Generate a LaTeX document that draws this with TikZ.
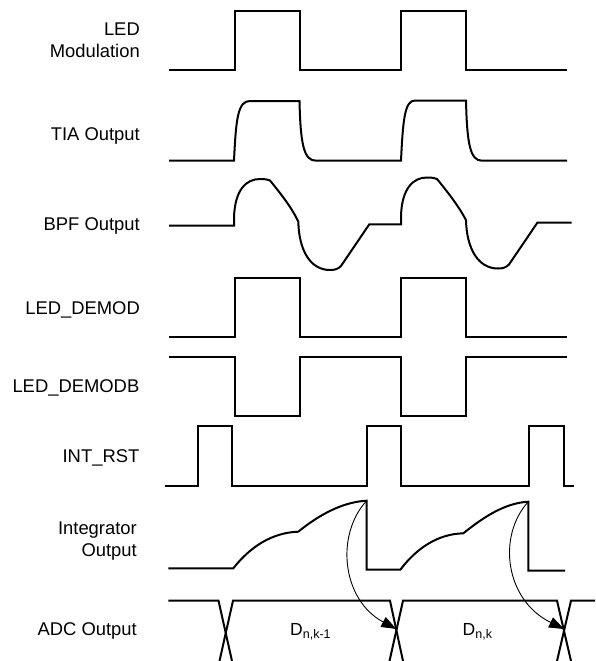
\documentclass[tikz,border=0pt]{standalone}
\usepackage{fontspec}
\setmainfont{Liberation Sans}
\usetikzlibrary{arrows.meta}
\begin{document}
\begin{tikzpicture}[x=1pt,y=-1pt,
  wave/.style={line width=2pt, line join=miter},
  lbl/.style={inner sep=0pt, font=\fontsize{18.4}{21.7}\selectfont, align=right},
  dlbl/.style={inner sep=0pt, font=\fontsize{17.5}{19}\selectfont},
  readout/.style={line width=0.9pt, -{Triangle[length=15pt,width=11pt]}}]
\useasboundingbox (0,0) rectangle (595,661);

% labels
\node[lbl, anchor=north east] (lmod) at (140,22.7) {LED\\Modulation};
\node[lbl, anchor=base east] (ltia) at (140,140) {TIA Output};
\node[lbl, anchor=base east] (lbpf) at (140,230) {BPF Output};
\node[lbl, anchor=base east] (ldem) at (140,314) {LED\_DEMOD};
\node[lbl, anchor=base east] (ldemb) at (139.5,392.7) {LED\_DEMODB};
\node[lbl, anchor=base east] (lrst) at (139.5,462.7) {INT\_RST};
\node[lbl, anchor=north east] (lint) at (137,521.7) {Integrator\\Output};
\node[lbl, anchor=base east] (ladc) at (137,635) {ADC Output};

% LED modulation
\draw[wave] (169,70) -- (234.5,70) -- (234.5,11) -- (300,11) -- (300,70) -- (401,70) -- (401,11) -- (466,11) -- (466,70) -- (567,70);

% TIA output
\draw[wave] (169,160.7) -- (234,160.7) .. controls (236,118) and (238,101) .. (250,101) -- (299.5,101) .. controls (300.5,145) and (304,160.7) .. (316,160.7) -- (401,160.7) .. controls (403,118) and (405,100.5) .. (415,100.5) -- (466,100.5) .. controls (467,145) and (470.5,160.7) .. (482,160.7) -- (567,160.7);

% BPF output
\draw[wave] (169,225.7) -- (234,225.7) -- (234,217) .. controls (235,190) and (246,179) .. (260,179) .. controls (265,179) and (268,179.5) .. (270,180.5) .. controls (281,194) and (292,208) .. (298.3,221.7) .. controls (299,250) and (310,270) .. (330,270) .. controls (335,270) and (338,269) .. (341,266) -- (369.3,224.3) -- (401,224.3) -- (401,215.5) .. controls (402,188.5) and (413,177.5) .. (427,177.5) .. controls (432,177.5) and (435,178) .. (437,179) .. controls (448,192.5) and (459,206.5) .. (466,220.2) .. controls (466.7,248.5) and (478,268.5) .. (498,268.5) .. controls (503,268.5) and (506,267.5) .. (509,264.5) -- (537.5,222.5) -- (571.7,222.5);

% LED_DEMOD
\draw[wave] (169,337.3) -- (235,337.3) -- (235,278.3) -- (300,278.3) -- (300,337.3) -- (401,337.3) -- (401,278.3) -- (466,278.3) -- (466,337.3) -- (567,337.3);

% LED_DEMODB
\draw[wave] (169,357.3) -- (235,357.3) -- (235,415.7) -- (300,415.7) -- (300,357.3) -- (401,357.3) -- (401,415.7) -- (466,415.7) -- (466,357.3) -- (567,357.3);

% INT_RST
\draw[wave] (164.7,485.7) -- (197.7,485.7) -- (197.7,426) -- (232.3,426) -- (232.3,485.7) -- (366.7,485.7) -- (366.7,426) -- (400.7,426) -- (400.7,485.7) -- (529.3,485.7) -- (529.3,426) -- (564.3,426) -- (564.3,485.7) -- (574.3,485.7);

% Integrator output
\coordinate (pk1) at (366.7,500.7);
\coordinate (pk2) at (528.3,501.7);
\draw[wave] (168.3,568.3) -- (233.3,568.3) .. controls (250,547) and (272,532.5) .. (298.3,531.7) .. controls (315,518) and (340,502) .. (pk1) -- (366.7,569.5) -- (400.5,569.5) .. controls (416,549) and (437,534) .. (463.3,533.3) .. controls (480,520) and (503,503) .. (pk2) -- (528.3,570.7) -- (565,570.7);

% ADC output
\coordinate (x2) at (396.3,629);
\coordinate (x3) at (564,629);
\draw[wave] (168.3,600.7) -- (218.5,600.7) -- (232,661);
\draw[wave] (219.5,661) -- (233,600.7) -- (390,600.7) -- (403,661);
\draw[wave] (389.5,661) -- (403,600.7) -- (557,600.7) -- (571,661);
\draw[wave] (557,661) -- (571,600.7) -- (595,600.7);

\node[dlbl, anchor=base west] (d1) at (290,635) {D\raisebox{-3pt}{\fontsize{12.5}{13}\selectfont n,k-1}};
\node[dlbl, anchor=base west] (d2) at (462.5,635) {D\raisebox{-3pt}{\fontsize{12.5}{13}\selectfont n,k}};

% readout arrows
\draw[readout] (pk1) .. controls (335,535) and (342,600) .. (x2);
\draw[readout] (pk2) .. controls (497,536) and (505,600) .. (x3);
\end{tikzpicture}
\end{document}
